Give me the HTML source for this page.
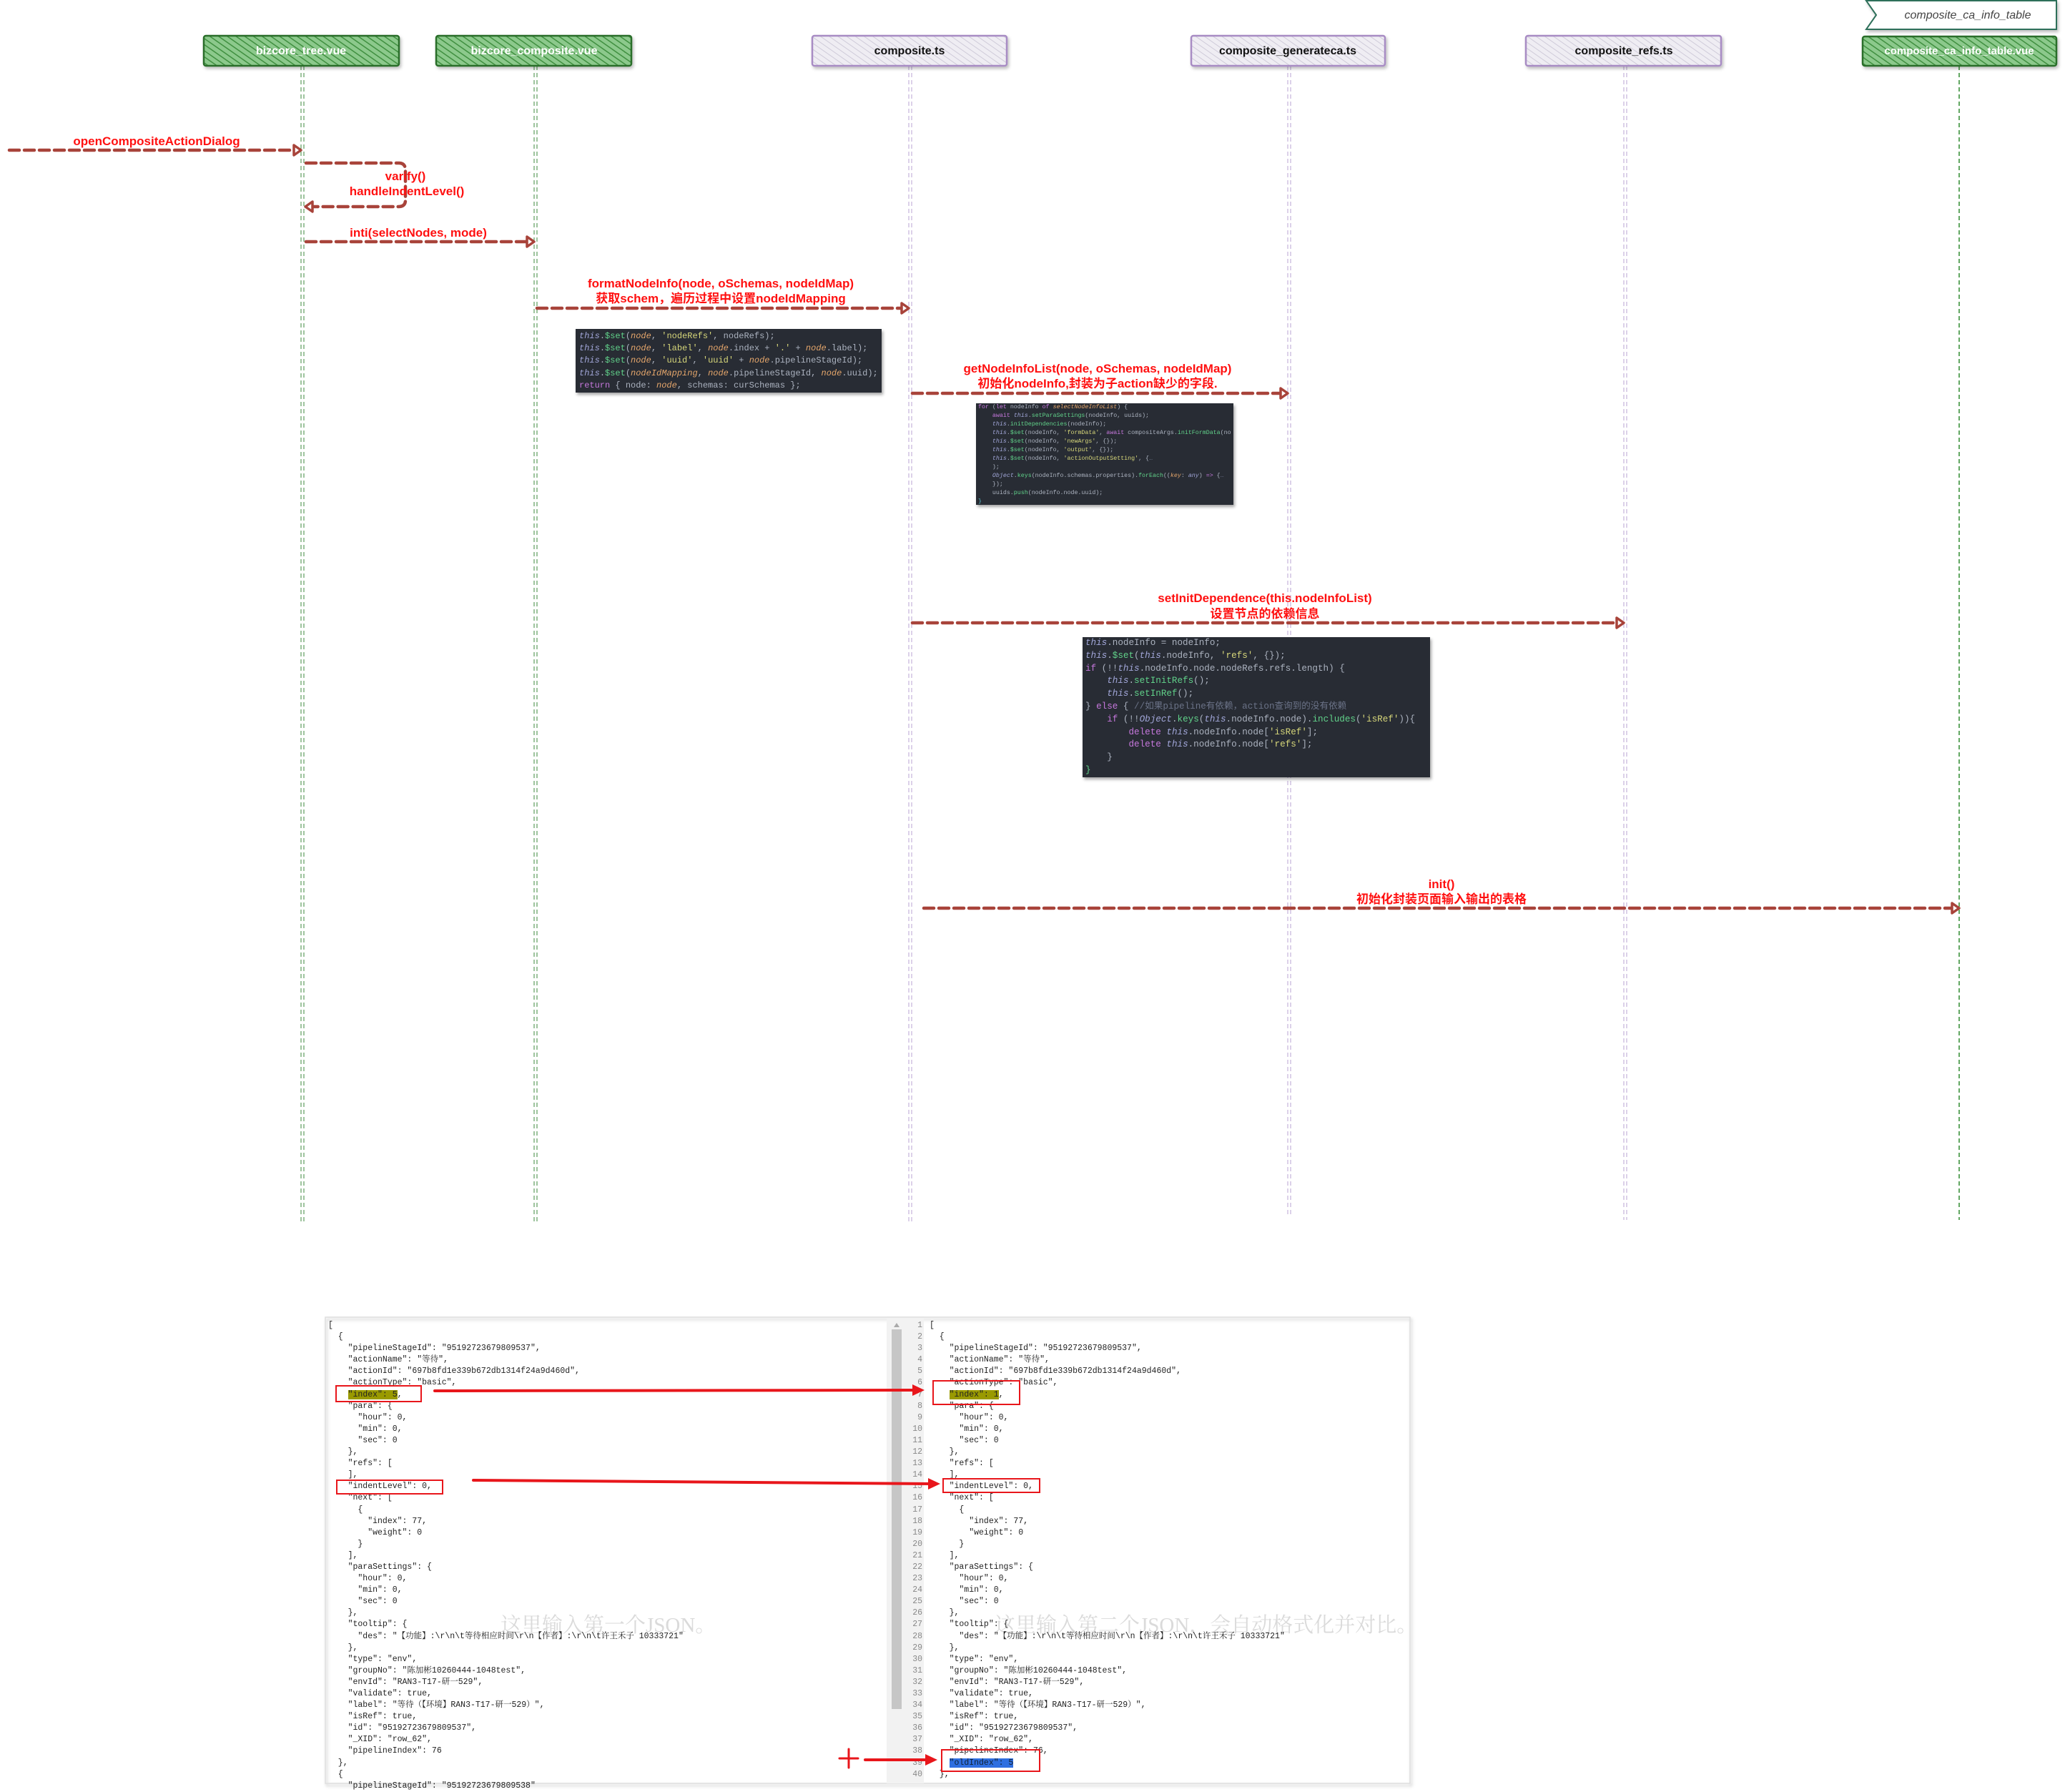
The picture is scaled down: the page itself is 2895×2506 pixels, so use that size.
<!DOCTYPE html>
<html><head><meta charset="utf-8">
<style>
html,body{margin:0;padding:0;background:#fff;}
body{width:2895px;height:2506px;position:relative;overflow:hidden;}
svg{position:absolute;left:0;top:0;}
.lbl{font-family:"Liberation Sans","Noto Sans CJK SC",sans-serif;font-weight:bold;font-size:17px;fill:#ff1010;text-anchor:middle;}
.code{position:absolute;background:#282c34;color:#abb2bf;font-family:"Liberation Mono","Noto Sans CJK SC",monospace;white-space:pre;box-shadow:2px 3px 4px rgba(0,0,0,.35);overflow:hidden;}
.k{color:#c678dd}.t{color:#a1a6d8;font-style:italic}.f{color:#61d28a}.s{color:#d7d77a}.v{color:#e5a66b;font-style:italic}.c{color:#6b7388}.o{color:#56b6c2}
.json{position:absolute;font-family:"Liberation Mono","Noto Serif CJK SC",monospace;font-size:11.5px;line-height:16.1px;white-space:pre;color:#222;margin:0;}
.ln{position:absolute;font-family:"Liberation Mono",monospace;font-size:11.5px;line-height:16.1px;white-space:pre;color:#888;text-align:right;margin:0;}
.wm{position:absolute;font-family:"Liberation Serif","Noto Serif CJK SC",serif;font-size:29px;color:rgba(150,150,150,.35);white-space:nowrap;}
.hl{background:#9a9a00;}
.hb{background:#2f6fe0;color:#123;}
</style></head><body>
<svg width="2895" height="2506" viewBox="0 0 2895 2506">
<defs>
<pattern id="hg" patternUnits="userSpaceOnUse" width="7" height="7" patternTransform="rotate(-55)">
<rect width="7" height="7" fill="#8cc98c"/><line x1="0" y1="0" x2="0" y2="7" stroke="#3f8f3f" stroke-width="3"/></pattern>
<pattern id="hp" patternUnits="userSpaceOnUse" width="7" height="7" patternTransform="rotate(-55)">
<rect width="7" height="7" fill="#efedf3"/><line x1="0" y1="0" x2="0" y2="7" stroke="#cfcbd9" stroke-width="2"/></pattern>
<filter id="sh"><feDropShadow dx="2" dy="3" stdDeviation="2" flood-color="#000" flood-opacity="0.25"/></filter>
</defs>
<g fill="none" stroke-width="1" stroke-dasharray="6 4">
<path d="M421 92 V1712 M425 92 V1712" stroke="#3d8a3d"/>
<path d="M747 92 V1712 M751 92 V1712" stroke="#3d8a3d"/>
<path d="M1271 92 V1712 M1275 92 V1712" stroke="#b9a3d3"/>
<path d="M1801 92 V1700 M1805 92 V1700" stroke="#b9a3d3"/>
<path d="M2271 92 V1706 M2275 92 V1706" stroke="#b9a3d3"/>
<path d="M2740 92 V1706" stroke="#2f8a2f" stroke-width="1.5"/>
</g>
<g filter="url(#sh)" stroke-width="2.5">
<rect x="285" y="50" width="273" height="42" rx="3" fill="url(#hg)" stroke="#2c6e2c"/>
<rect x="610" y="50" width="273" height="42" rx="3" fill="url(#hg)" stroke="#2c6e2c"/>
<rect x="1136" y="50" width="272" height="42" rx="3" fill="url(#hp)" stroke="#a88cc4"/>
<rect x="1666" y="50" width="271" height="42" rx="3" fill="url(#hp)" stroke="#a88cc4"/>
<rect x="2134" y="50" width="273" height="42" rx="3" fill="url(#hp)" stroke="#a88cc4"/>
<rect x="2605" y="51" width="271" height="41" rx="3" fill="url(#hg)" stroke="#2c6e2c"/>
<polygon points="2610,1 2876,1 2876,41 2610,41 2624,21" fill="#fff" stroke="#2f6f5a" stroke-width="2"/>
</g>
<g font-family="Liberation Sans, sans-serif" font-size="16" font-weight="bold" text-anchor="middle">
<text x="421" y="76" fill="#fff">bizcore_tree.vue</text>
<text x="747" y="76" fill="#fff">bizcore_composite.vue</text>
<text x="1272" y="76" fill="#111">composite.ts</text>
<text x="1801" y="76" fill="#111">composite_generateca.ts</text>
<text x="2271" y="76" fill="#111">composite_refs.ts</text>
<text x="2740" y="76" fill="#fff" font-size="15">composite_ca_info_table.vue</text>
<text x="2752" y="26" fill="#444" font-weight="normal" font-style="italic" font-size="16">composite_ca_info_table</text>
</g>
<g fill="none" stroke="#a8433a" stroke-width="4.5" stroke-dasharray="14 7" stroke-linecap="round">
<path d="M13 210 H412"/>
<path d="M428 228 H558 Q567 228 567 238 V280 Q567 289 557 289 H437"/>
<path d="M428 338 H738"/>
<path d="M751 431 H1262"/>
<path d="M1276 550 H1792"/>
<path d="M1276 871 H2262"/>
<path d="M1292 1270 H2731"/>
</g>
<g fill="#fff" stroke="#a8433a" stroke-width="3.5" stroke-linejoin="round">
<polygon points="411,203 421,210 411,217"/>
<polygon points="437,282 427,289 437,296"/>
<polygon points="737,331 747,338 737,345"/>
<polygon points="1261,424 1271,431 1261,438"/>
<polygon points="1791,543 1801,550 1791,557"/>
<polygon points="2261,864 2271,871 2261,878"/>
<polygon points="2730,1263 2740,1270 2730,1277"/>
</g>
<g class="lbl">
<text x="219" y="203" class="lbl">openCompositeActionDialog</text>
<text x="567" y="252" class="lbl">varify()</text>
<text x="569" y="273" class="lbl">handleIndentLevel()</text>
<text x="585" y="331" class="lbl">inti(selectNodes, mode)</text>
<text x="1008" y="402" class="lbl">formatNodeInfo(node, oSchemas, nodeIdMap)</text>
<text x="1008" y="423" class="lbl">获取schem，遍历过程中设置nodeIdMapping</text>
<text x="1535" y="521" class="lbl">getNodeInfoList(node, oSchemas, nodeIdMap)</text>
<text x="1535" y="542" class="lbl">初始化nodeInfo,封装为子action缺少的字段.</text>
<text x="1769" y="842" class="lbl">setInitDependence(this.nodeInfoList)</text>
<text x="1769" y="864" class="lbl">设置节点的依赖信息</text>
<text x="2016" y="1242" class="lbl">init()</text>
<text x="2016" y="1263" class="lbl">初始化封装页面输入输出的表格</text>
</g>
<rect x="455" y="1842" width="1517" height="652" fill="none" stroke="#ddd" stroke-width="1.5" filter="url(#sh)"/>
<rect x="1240" y="1843" width="52" height="651" fill="#f2f2f2"/>
<rect x="1247" y="1859" width="14" height="531" fill="#c6c6c6"/>
<polygon points="1250,1856 1254,1850 1258,1856" fill="#aaa"/>
</svg>

<div class="code" style="left:805px;top:460px;width:428px;height:89px;font-size:12px;line-height:17.2px;padding:2px 0 0 5px;box-sizing:border-box;"><span class="t">this</span>.<span class="f">$set</span>(<span class="v">node</span>, <span class="s">'nodeRefs'</span>, nodeRefs);
<span class="t">this</span>.<span class="f">$set</span>(<span class="v">node</span>, <span class="s">'label'</span>, <span class="v">node</span>.index + <span class="s">'.'</span> + <span class="v">node</span>.label);
<span class="t">this</span>.<span class="f">$set</span>(<span class="v">node</span>, <span class="s">'uuid'</span>, <span class="s">'uuid'</span> + <span class="v">node</span>.pipelineStageId);
<span class="t">this</span>.<span class="f">$set</span>(<span class="v">nodeIdMapping</span>, <span class="v">node</span>.pipelineStageId, <span class="v">node</span>.uuid);
<span class="k">return</span> { node: <span class="v">node</span>, schemas: curSchemas };</div>

<div class="code" style="left:1365px;top:564px;width:360px;height:142px;font-size:8.3px;line-height:12px;padding:0 0 0 3px;box-sizing:border-box;"><span class="k">for</span> (<span class="k">let</span> nodeInfo <span class="k">of</span> <span class="v">selectNodeInfoList</span>) {
    <span class="k">await</span> <span class="t">this</span>.<span class="f">setParaSettings</span>(nodeInfo, uuids);
    <span class="t">this</span>.<span class="f">initDependencies</span>(nodeInfo);
    <span class="t">this</span>.<span class="f">$set</span>(nodeInfo, <span class="s">'formData'</span>, <span class="k">await</span> compositeArgs.<span class="f">initFormData</span>(no
    <span class="t">this</span>.<span class="f">$set</span>(nodeInfo, <span class="s">'newArgs'</span>, {});
    <span class="t">this</span>.<span class="f">$set</span>(nodeInfo, <span class="s">'output'</span>, {});
    <span class="t">this</span>.<span class="f">$set</span>(nodeInfo, <span class="s">'actionOutputSetting'</span>, {<span class="c">…</span>
    );
    <span class="t">Object</span>.<span class="f">keys</span>(nodeInfo.schemas.properties).<span class="f">forEach</span>((<span class="v">key</span>: <span class="t">any</span>) <span class="k">=&gt;</span> {<span class="c">…</span>
    });
    uuids.<span class="f">push</span>(nodeInfo.node.uuid);
<span class="o">}</span></div>

<div class="code" style="left:1514px;top:891px;width:486px;height:196px;font-size:12.6px;line-height:17.8px;padding:0 0 0 4px;box-sizing:border-box;"><span class="t">this</span>.nodeInfo = nodeInfo;
<span class="t">this</span>.<span class="f">$set</span>(<span class="t">this</span>.nodeInfo, <span class="s">'refs'</span>, {});
<span class="k">if</span> (!!<span class="t">this</span>.nodeInfo.node.nodeRefs.refs.length) {
    <span class="t">this</span>.<span class="f">setInitRefs</span>();
    <span class="t">this</span>.<span class="f">setInRef</span>();
} <span class="k">else</span> { <span class="c">//如果pipeline有依赖，action查询到的没有依赖</span>
    <span class="k">if</span> (!!<span class="t">Object</span>.<span class="f">keys</span>(<span class="t">this</span>.nodeInfo.node).<span class="f">includes</span>(<span class="s">'isRef'</span>)){
        <span class="k">delete</span> <span class="t">this</span>.nodeInfo.node[<span class="s">'isRef'</span>];
        <span class="k">delete</span> <span class="t">this</span>.nodeInfo.node[<span class="s">'refs'</span>];
    }
<span class="f">}</span></div>

<div class="wm" style="left:700px;top:2250px;">这里输入第一个JSON。</div>
<div class="wm" style="left:1391px;top:2250px;">这里输入第二个JSON，会自动格式化并对比。</div>

<pre class="json" style="left:459px;top:1846px;">[
  {
    "pipelineStageId": "95192723679809537",
    "actionName": "等待",
    "actionId": "697b8fd1e339b672db1314f24a9d460d",
    "actionType": "basic",
    <span class="hl">"index": 5</span>,
    "para": {
      "hour": 0,
      "min": 0,
      "sec": 0
    },
    "refs": [
    ],
    "indentLevel": 0,
    "next": [
      {
        "index": 77,
        "weight": 0
      }
    ],
    "paraSettings": {
      "hour": 0,
      "min": 0,
      "sec": 0
    },
    "tooltip": {
      "des": "【功能】:\r\n\t等待相应时间\r\n【作者】:\r\n\t许王禾子 10333721"
    },
    "type": "env",
    "groupNo": "陈加彬10260444-1048test",
    "envId": "RAN3-T17-研一529",
    "validate": true,
    "label": "等待（【环境】RAN3-T17-研一529）",
    "isRef": true,
    "id": "95192723679809537",
    "_XID": "row_62",
    "pipelineIndex": 76
  },
  {
    "pipelineStageId": "95192723679809538"</pre>

<pre class="ln" style="left:1262px;top:1846px;width:28px;">1
2
3
4
5
6
7
8
9
10
11
12
13
14
15
16
17
18
19
20
21
22
23
24
25
26
27
28
29
30
31
32
33
34
35
36
37
38
39
40</pre>

<pre class="json" style="left:1300px;top:1846px;">[
  {
    "pipelineStageId": "95192723679809537",
    "actionName": "等待",
    "actionId": "697b8fd1e339b672db1314f24a9d460d",
    "actionType": "basic",
    <span class="hl">"index": 1</span>,
    "para": {
      "hour": 0,
      "min": 0,
      "sec": 0
    },
    "refs": [
    ],
    "indentLevel": 0,
    "next": [
      {
        "index": 77,
        "weight": 0
      }
    ],
    "paraSettings": {
      "hour": 0,
      "min": 0,
      "sec": 0
    },
    "tooltip": {
      "des": "【功能】:\r\n\t等待相应时间\r\n【作者】:\r\n\t许王禾子 10333721"
    },
    "type": "env",
    "groupNo": "陈加彬10260444-1048test",
    "envId": "RAN3-T17-研一529",
    "validate": true,
    "label": "等待（【环境】RAN3-T17-研一529）",
    "isRef": true,
    "id": "95192723679809537",
    "_XID": "row_62",
    "pipelineIndex": 76,
    <span class="hb">"oldIndex": 5</span>
  },</pre>

<svg width="2895" height="2506" viewBox="0 0 2895 2506" style="pointer-events:none">
<g fill="none" stroke="#e8161b" stroke-width="2">
<rect x="470" y="1938" width="119" height="22"/>
<rect x="471" y="2070" width="148" height="19"/>
<rect x="1305" y="1931" width="121" height="33"/>
<rect x="1319" y="2068" width="135" height="19"/>
<rect x="1317" y="2447" width="137" height="30"/>
</g>
<g stroke="#e8161b" stroke-width="4" stroke-linecap="round" fill="none">
<path d="M608 1945 L1280 1944"/>
<path d="M662 2070 L1302 2075"/>
<path d="M1210 2461 L1298 2461"/>
<path d="M1174 2459 H1200 M1187 2446 V2472" stroke-width="3"/>
</g>
<g fill="#e8161b">
<polygon points="1276,1936 1293,1944 1276,1952"/>
<polygon points="1298,2067 1315,2075 1298,2083"/>
<polygon points="1294,2453 1311,2461 1294,2469"/>
</g>
</svg>
</body></html>
